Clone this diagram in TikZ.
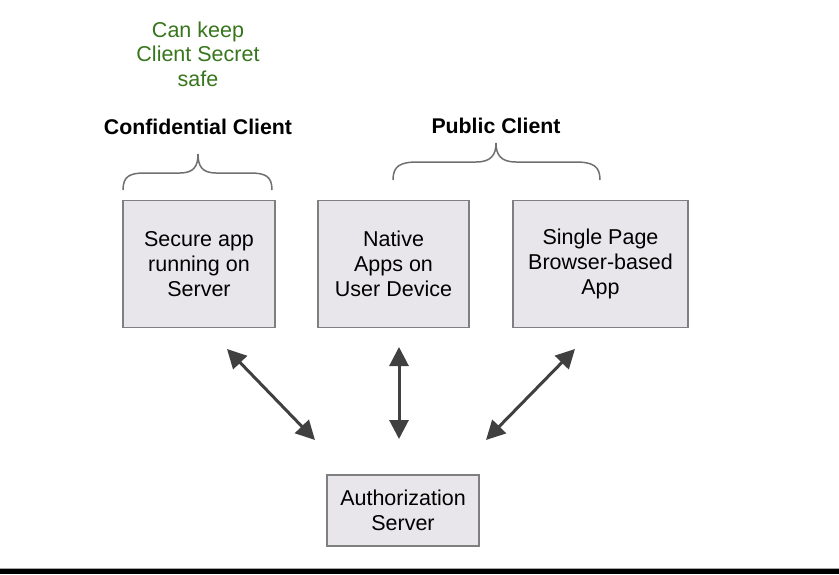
\documentclass[tikz,border=0pt]{standalone}
\usepackage{fontspec}
\setmainfont{Liberation Sans}
\usetikzlibrary{arrows.meta}
\definecolor{boxfill}{HTML}{E8E6EA}
\definecolor{boxline}{HTML}{7F7F7F}
\definecolor{arrowgray}{HTML}{404040}
\definecolor{keepgreen}{HTML}{38761D}
\definecolor{bracegray}{HTML}{707070}

\begin{document}
\begin{tikzpicture}[x=1pt,y=-1pt,
  appbox/.style={draw=boxline, fill=boxfill, line width=1.5pt, align=center,
    font=\fontsize{21.5}{25}\selectfont, inner sep=0pt},
  note/.style={align=center, font=\fontsize{21.5}{24.5}\selectfont, text=keepgreen, inner sep=0pt},
  heading/.style={font=\fontsize{21.3}{25}\selectfont\bfseries, inner sep=0pt},
  brace/.style={draw=bracegray, line width=1.5pt},
  dblarrow/.style={draw=arrowgray, line width=3pt,
    {Triangle[length=19pt,width=19pt]}-{Triangle[length=19pt,width=19pt]}}]

\useasboundingbox (0,0) rectangle (839,574);
\fill[white] (0,0) rectangle (839,574);
% bottom frame edge
\fill[black] (0,569) rectangle (839,574);
\draw[gray!70, line width=0.8pt] (0,568.2) -- (839,568.2);

% application boxes
\node[appbox, minimum width=152pt, minimum height=127pt] (secure) at (199,264)
  {Secure app\\running on\\Server};
\node[appbox, minimum width=151pt, minimum height=127pt] (native) at (393.5,264)
  {Native\\Apps on\\User Device};
\node[appbox, minimum width=175pt, minimum height=127pt] (spa) at (600.5,264)
  {Single Page\\Browser-based\\App};
\node[appbox, minimum width=152pt, minimum height=71pt] (auth) at (403,510.5)
  {Authorization\\Server};

% client category labels
\node[note] (keep) at (198,54) {Can keep\\Client Secret\\safe};
\node[heading] (conf) at (198,127) {Confidential Client};
\node[heading] (pub) at (496,126) {Public Client};

% braces over the client groups
\draw[brace] (123,190) .. controls (123,176) and (130,173) .. (145,173)
  -- (180,173) .. controls (194,173) and (198,166) .. (198,154)
  .. controls (198,166) and (202,173) .. (216,173)
  -- (250,173) .. controls (265,173) and (272,176) .. (272,190);
\draw[brace] (393,180) .. controls (393,166) and (400,162) .. (418,162)
  -- (476,162) .. controls (491,162) and (496,155) .. (496,143)
  .. controls (496,155) and (501,162) .. (516,162)
  -- (575,162) .. controls (593,162) and (600,166) .. (600,180);

% token exchange arrows
\coordinate (s1) at (227,349);
\coordinate (e1) at (315,440);
\coordinate (s2) at (399,347);
\coordinate (e2) at (399,439);
\coordinate (s3) at (575,349);
\coordinate (e3) at (486,440);
\draw[dblarrow] (s1) -- (e1);
\draw[dblarrow] (s2) -- (e2);
\draw[dblarrow] (s3) -- (e3);
\end{tikzpicture}
\end{document}
